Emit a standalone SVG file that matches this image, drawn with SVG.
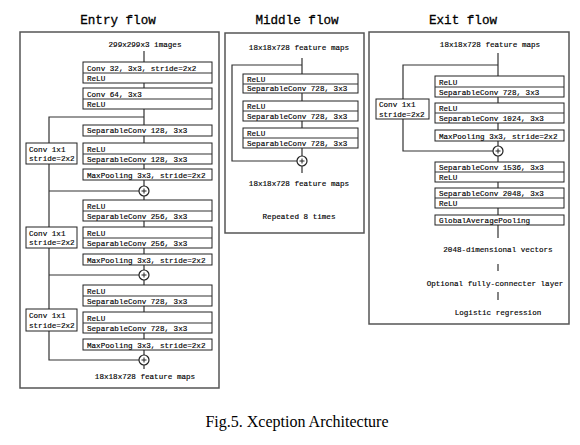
<svg xmlns="http://www.w3.org/2000/svg" width="580" height="445" viewBox="0 0 580 445">
<defs>
<style>
.outer{fill:none;stroke:#555;stroke-width:1.5}
.box{fill:#fff;stroke:#222;stroke-width:1}
.ln{fill:none;stroke:#333;stroke-width:1.2}
.t{font-family:"Liberation Mono","DejaVu Sans Mono",monospace;font-size:7.6px;fill:#000;stroke:#000;stroke-width:0.15}
.c{text-anchor:middle}
.title{font-family:"Liberation Mono","DejaVu Sans Mono",monospace;font-size:12.6px;fill:#000;stroke:#000;stroke-width:0.3;text-anchor:middle}
.cap{font-family:"Liberation Serif","Times New Roman",serif;font-size:16px;fill:#000;text-anchor:middle}
.circ{fill:#fff;stroke:#222;stroke-width:1.2}
</style>
<g id="plus"><circle class="circ" cx="0" cy="0" r="5"/><path d="M-2.5 0H2.5M0 -2.5V2.5" stroke="#222" stroke-width="1"/></g>
</defs>
<rect width="580" height="445" fill="#fff"/>

<g id="connectors">
<path class="ln" d="M144 51V62M144 83V88M144 109V125M144 136V143M144 164V169M144 180V186M144 196V200M144 221V227M144 248V254M144 265V270M144 280V285M144 306V312M144 333V339M144 350V355M144 365V369"/>
<path class="ln" d="M144 117H49V143M49 164V227M49 191H139M49 248V309M49 275H139M49 331V360H139"/>
<path class="ln" d="M302 58V74M302 93V101M302 121V128M302 148V156M302 166V173"/>
<path class="ln" d="M302 65H232V161H297"/>
<path class="ln" d="M498 53V76M498 97V103M498 123V130M498 141V146M498 156V162M498 182V188M498 208V215M498 225V238M498 264V271M498 292V300"/>
<path class="ln" d="M498 65H403V99M403 119V151H493"/>
</g>

<g id="entry-flow">
<text class="title" x="118" y="24">Entry flow</text>
<rect class="outer" x="20" y="32" width="199" height="356"/>
<text class="t c" x="145" y="47">299x299x3 images</text>
</g>
<g id="e-conv32"><rect class="box" x="83" y="62" width="129" height="21"/><path class="ln" d="M83 73H212"/><text class="t" x="87" y="70.5">Conv 32, 3x3, stride=2x2</text><text class="t" x="87" y="80.5">ReLU</text></g>
<g id="e-conv64"><rect class="box" x="83" y="88" width="129" height="21"/><path class="ln" d="M83 99H212"/><text class="t" x="87" y="96.5">Conv 64, 3x3</text><text class="t" x="87" y="106.5">ReLU</text></g>
<g id="e-sep128a"><rect class="box" x="83" y="125" width="129" height="11"/><text class="t" x="87" y="133">SeparableConv 128, 3x3</text></g>
<g id="e-sep128b"><rect class="box" x="83" y="143" width="129" height="21"/><path class="ln" d="M83 154H212"/><text class="t" x="87" y="151.5">ReLU</text><text class="t" x="87" y="161.5">SeparableConv 128, 3x3</text></g>
<g id="e-pool1"><rect class="box" x="83" y="169" width="129" height="11"/><text class="t" x="87" y="177.5">MaxPooling 3x3, stride=2x2</text></g>
<g id="e-res1"><rect class="box" x="26" y="143" width="51" height="21"/><text class="t" x="29" y="151.5">Conv 1x1</text><text class="t" x="29" y="161">stride=2x2</text></g>
<g id="e-add1"><use href="#plus" x="144" y="191"/></g>
<g id="e-sep256a"><rect class="box" x="83" y="200" width="129" height="21"/><path class="ln" d="M83 211H212"/><text class="t" x="87" y="208.5">ReLU</text><text class="t" x="87" y="218.5">SeparableConv 256, 3x3</text></g>
<g id="e-sep256b"><rect class="box" x="83" y="227" width="129" height="21"/><path class="ln" d="M83 238H212"/><text class="t" x="87" y="235.5">ReLU</text><text class="t" x="87" y="245.5">SeparableConv 256, 3x3</text></g>
<g id="e-res2"><rect class="box" x="26" y="227" width="51" height="21"/><text class="t" x="29" y="235.5">Conv 1x1</text><text class="t" x="29" y="245">stride=2x2</text></g>
<g id="e-pool2"><rect class="box" x="83" y="254" width="129" height="11"/><text class="t" x="87" y="262.5">MaxPooling 3x3, stride=2x2</text></g>
<g id="e-add2"><use href="#plus" x="144" y="275"/></g>
<g id="e-sep728a"><rect class="box" x="83" y="285" width="129" height="21"/><path class="ln" d="M83 296H212"/><text class="t" x="87" y="293.5">ReLU</text><text class="t" x="87" y="303.5">SeparableConv 728, 3x3</text></g>
<g id="e-sep728b"><rect class="box" x="83" y="312" width="129" height="21"/><path class="ln" d="M83 323H212"/><text class="t" x="87" y="320.5">ReLU</text><text class="t" x="87" y="330.5">SeparableConv 728, 3x3</text></g>
<g id="e-res3"><rect class="box" x="26" y="309" width="51" height="22"/><text class="t" x="29" y="318">Conv 1x1</text><text class="t" x="29" y="327.5">stride=2x2</text></g>
<g id="e-pool3"><rect class="box" x="83" y="339" width="129" height="11"/><text class="t" x="87" y="347.5">MaxPooling 3x3, stride=2x2</text></g>
<g id="e-add3"><use href="#plus" x="144" y="360"/></g>
<g id="e-out"><text class="t c" x="145" y="379">18x18x728 feature maps</text></g>

<g id="middle-flow">
<text class="title" x="297" y="24">Middle flow</text>
<rect class="outer" x="225" y="33" width="139" height="200"/>
<text class="t c" x="299" y="49.5">18x18x728 feature maps</text>
</g>
<g id="m-sep1"><rect class="box" x="243" y="74" width="115" height="19"/><path class="ln" d="M243 84H358"/><text class="t" x="247" y="81.5">ReLU</text><text class="t" x="247" y="91">SeparableConv 728, 3x3</text></g>
<g id="m-sep2"><rect class="box" x="243" y="101" width="115" height="20"/><path class="ln" d="M243 111H358"/><text class="t" x="247" y="108.5">ReLU</text><text class="t" x="247" y="118.5">SeparableConv 728, 3x3</text></g>
<g id="m-sep3"><rect class="box" x="243" y="128" width="115" height="20"/><path class="ln" d="M243 138H358"/><text class="t" x="247" y="135.5">ReLU</text><text class="t" x="247" y="145.5">SeparableConv 728, 3x3</text></g>
<g id="m-add"><use href="#plus" x="302" y="161"/></g>
<g id="m-out"><text class="t c" x="299" y="186">18x18x728 feature maps</text><text class="t c" x="299" y="219">Repeated 8 times</text></g>

<g id="exit-flow">
<text class="title" x="463" y="24">Exit flow</text>
<rect class="outer" x="369" y="32" width="200" height="292"/>
<text class="t c" x="490" y="47">18x18x728 feature maps</text>
</g>
<g id="x-sep728"><rect class="box" x="435" y="76" width="129" height="21"/><path class="ln" d="M435 87H564"/><text class="t" x="439" y="84.5">ReLU</text><text class="t" x="439" y="94.5">SeparableConv 728, 3x3</text></g>
<g id="x-sep1024"><rect class="box" x="435" y="103" width="129" height="20"/><path class="ln" d="M435 113H564"/><text class="t" x="439" y="110.5">ReLU</text><text class="t" x="439" y="120.5">SeparableConv 1024, 3x3</text></g>
<g id="x-pool"><rect class="box" x="435" y="130" width="129" height="11"/><text class="t" x="439" y="138.5">MaxPooling 3x3, stride=2x2</text></g>
<g id="x-res"><rect class="box" x="376" y="99" width="53" height="20"/><text class="t" x="379" y="107">Conv 1x1</text><text class="t" x="379" y="116.5">stride=2x2</text></g>
<g id="x-add"><use href="#plus" x="498" y="151"/></g>
<g id="x-sep1536"><rect class="box" x="435" y="162" width="129" height="20"/><path class="ln" d="M435 172H564"/><text class="t" x="439" y="169.5">SeparableConv 1536, 3x3</text><text class="t" x="439" y="179.5">ReLU</text></g>
<g id="x-sep2048"><rect class="box" x="435" y="188" width="129" height="20"/><path class="ln" d="M435 198H564"/><text class="t" x="439" y="195.5">SeparableConv 2048, 3x3</text><text class="t" x="439" y="205.5">ReLU</text></g>
<g id="x-gap"><rect class="box" x="435" y="215" width="129" height="10"/><text class="t" x="439" y="222.5">GlobalAveragePooling</text></g>
<g id="x-vec"><text class="t c" x="498" y="251.5">2048-dimensional vectors</text></g>
<g id="x-fc"><text class="t c" x="495" y="285.5">Optional fully-connecter layer</text></g>
<g id="x-lr"><text class="t c" x="498" y="314.5">Logistic regression</text></g>

<text class="cap" x="297" y="427">Fig.5. Xception Architecture</text>
</svg>
